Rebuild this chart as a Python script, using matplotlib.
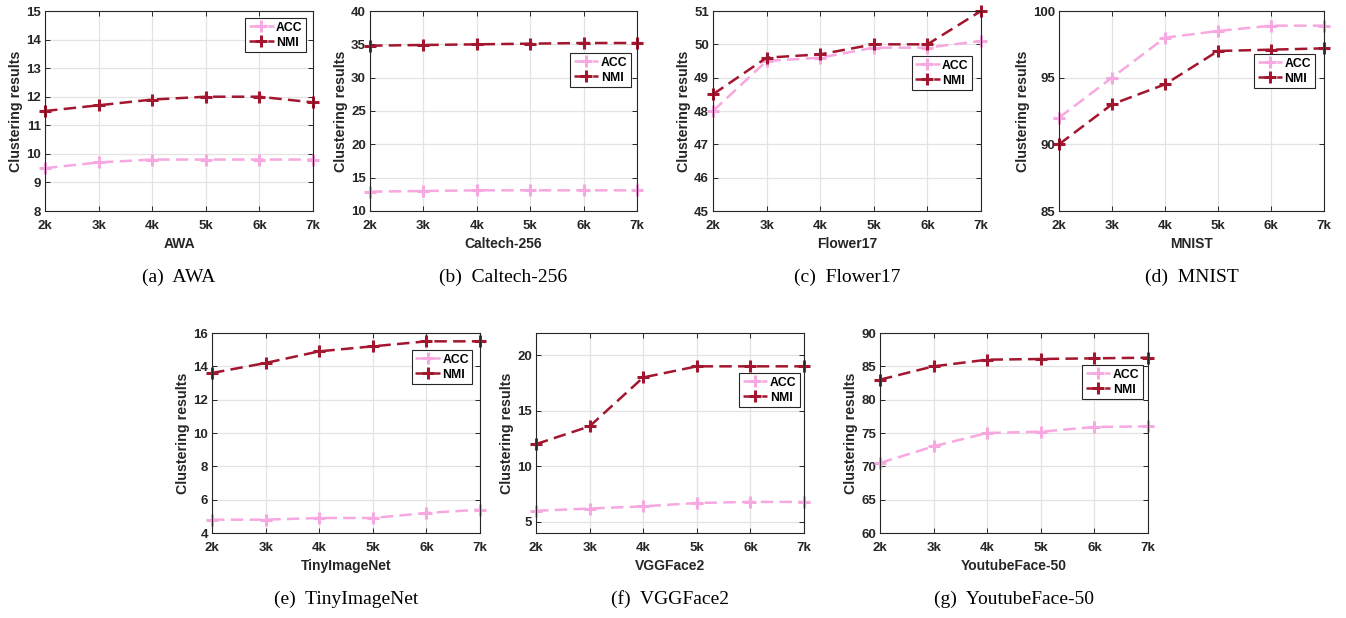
import numpy as np
import matplotlib
matplotlib.use('Agg')
import matplotlib.pyplot as plt

plt.rcParams['font.family'] = ['Liberation Sans', 'DejaVu Sans']

x_ticks = [2, 3, 4, 5, 6, 7]
x_labels = ['2k', '3k', '4k', '5k', '6k', '7k']

names = ['AWA', 'Caltech-256', 'Flower17', 'MNIST', 'TinyImageNet', 'VGGFace2', 'YoutubeFace-50']
captions = ['(a)  AWA', '(b)  Caltech-256', '(c)  Flower17', '(d)  MNIST',
            '(e)  TinyImageNet', '(f)  VGGFace2', '(g)  YoutubeFace-50']

acc_awa = [9.5, 9.7, 9.8, 9.8, 9.8, 9.8]
nmi_awa = [11.5, 11.7, 11.9, 12.0, 12.0, 11.8]
acc_cal = [12.9, 13.0, 13.1, 13.1, 13.1, 13.1]
nmi_cal = [34.8, 34.9, 35.0, 35.1, 35.2, 35.2]
acc_flo = [48.0, 49.5, 49.6, 49.9, 49.9, 50.1]
nmi_flo = [48.5, 49.6, 49.7, 50.0, 50.0, 51.0]
acc_mni = [92.0, 95.0, 98.0, 98.5, 98.9, 98.9]
nmi_mni = [90.0, 93.0, 94.5, 97.0, 97.1, 97.2]
acc_tin = [4.8, 4.8, 4.9, 4.9, 5.2, 5.4]
nmi_tin = [13.6, 14.2, 14.9, 15.2, 15.5, 15.5]
acc_vgg = [6.0, 6.2, 6.4, 6.7, 6.8, 6.8]
nmi_vgg = [12.0, 13.6, 18.0, 19.0, 19.0, 19.0]
acc_you = [70.5, 73.0, 75.0, 75.2, 75.9, 76.0]
nmi_you = [83.0, 85.0, 86.0, 86.1, 86.2, 86.3]

acc_all = [acc_awa, acc_cal, acc_flo, acc_mni, acc_tin, acc_vgg, acc_you]
nmi_all = [nmi_awa, nmi_cal, nmi_flo, nmi_mni, nmi_tin, nmi_vgg, nmi_you]

ylims = [(8, 15), (10, 40), (45, 51), (85, 100), (4, 16), (4, 22), (60, 90)]
ysteps = [1, 5, 1, 5, 2, 5, 5]

# axes boxes in pixels: left, top, right, bottom
boxes = [(45, 11, 313, 211), (370, 11, 637, 211), (713, 11, 981, 211), (1059, 11, 1324, 211),
         (212, 333, 480, 533), (536, 333, 804, 533), (880, 333, 1148, 533)]
# legend anchor (right, top) in axes coords
leg_pos = [(0.975, 0.965), (0.978, 0.79), (0.968, 0.775), (0.965, 0.785),
           (0.972, 0.915), (0.985, 0.80), (0.982, 0.84)]

W, H = 1346, 618
fig = plt.figure(figsize=(W / 100, H / 100), dpi=100)

c_acc = '#F7A8E0'
c_nmi = '#A3162F'
c_txt = '#262626'

for i in range(7):
    l, t, r, b = boxes[i]
    ax = fig.add_axes([l / W, 1 - b / H, (r - l) / W, (b - t) / H])
    ax.plot(x_ticks, acc_all[i], color=c_acc, lw=1.8, dashes=(5, 2.5),
            marker='+', ms=9, mew=2.2, label='ACC', clip_on=False)
    ax.plot(x_ticks, nmi_all[i], color=c_nmi, lw=1.8, dashes=(5, 2.5),
            marker='+', ms=9, mew=2.2, label='NMI', clip_on=False)
    ax.set_xlim(2, 7)
    ax.set_ylim(*ylims[i])
    lo, hi = ylims[i]
    st = ysteps[i]
    start = np.ceil(lo / st) * st
    ax.set_yticks(np.arange(start, hi + 0.01, st))
    ax.set_xticks(x_ticks)
    ax.set_xticklabels(x_labels)
    ax.grid(True, color='#e3e3e3', lw=0.9)
    ax.set_axisbelow(True)
    for s in ax.spines.values():
        s.set_color(c_txt)
        s.set_linewidth(0.8)
    ax.tick_params(direction='in', top=True, right=True, length=3.5, width=0.7,
                   labelsize=9.5, colors=c_txt)
    ax.tick_params(axis='x', pad=6.5)
    ax.tick_params(axis='y', pad=3)
    for lab in ax.get_xticklabels() + ax.get_yticklabels():
        lab.set_fontweight('bold')
    ax.set_xlabel(names[i], fontsize=10, fontweight='bold', color=c_txt)
    ax.xaxis.set_label_coords(0.5, -0.13)
    ax.set_ylabel('Clustering results', fontsize=10.3, fontweight='bold', color=c_txt, labelpad=2)
    leg = ax.legend(loc='upper right', bbox_to_anchor=leg_pos[i],
                    prop={'weight': 'bold', 'size': 8.8}, handlelength=2.0,
                    handletextpad=0.2, borderpad=0.3, labelspacing=0.25,
                    fancybox=False, framealpha=1, borderaxespad=0)
    leg.get_frame().set_edgecolor(c_txt)
    leg.get_frame().set_linewidth(0.8)
    ax.text(0.5, -0.33, captions[i], transform=ax.transAxes, ha='center', va='center',
            fontsize=14, family='Liberation Serif')

plt.savefig('out.png', dpi=100)
